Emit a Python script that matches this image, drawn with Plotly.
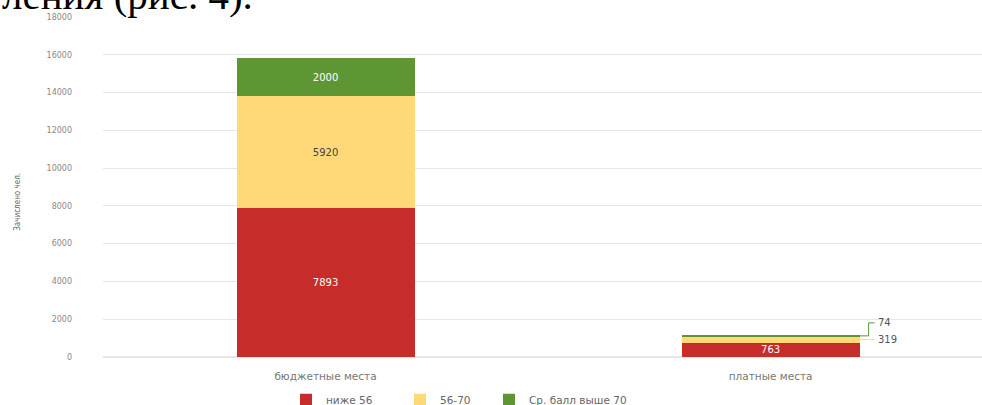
import plotly.graph_objects as go

categories = ["бюджетные места", "платные места"]
series_names = ["ниже 56", "56-70", "Ср. балл выше 70"]
below_56 = [7893, 763]
mid_56_70 = [5920, 319]
above_70 = [2000, 74]
colors = ["#C62D2A", "#FFD877", "#5E9634"]
text_colors = ["#ffffff", "#444444", "#ffffff"]
y_ticks = [0, 2000, 4000, 6000, 8000, 10000, 12000, 14000, 16000, 18000]
y_tick_labels = ["0", "2000", "4000", "6000", "8000", "10000", "12000", "14000", "16000", "18000"]
y_title = "Зачислено чел."
doc_text = "ления (рис. 4)."

series = [below_56, mid_56_70, above_70]
legend_ids = ["legend", "legend2", "legend3"]
legend_left_px = [286, 400, 489]

fig = go.Figure()
for i, (name, vals) in enumerate(zip(series_names, series)):
    txt = []
    for j, v in enumerate(vals):
        txt.append(str(v) if (j == 0 or i == 0) else "")
    fig.add_trace(go.Bar(
        x=categories, y=vals, name=name,
        marker=dict(color=colors[i], line=dict(width=0)),
        width=0.4,
        text=txt, textposition="inside", insidetextanchor="middle",
        textfont=dict(color=text_colors[i], size=10, family="DejaVu Sans"),
        hoverinfo="skip",
        legend=legend_ids[i],
    ))

# outside labels with connectors for the small bar segments
px_per_unit = 340 / 18000.0
half_w = 0.2
j = 1
cum = [0, below_56[j], below_56[j] + mid_56_70[j], below_56[j] + mid_56_70[j] + above_70[j]]
small = [(1, mid_56_70[j], colors[1], 0), (2, above_70[j], colors[2], 13)]
for k, v, c, up_px in small:
    ymid = (cum[k] + cum[k + 1]) / 2.0
    ylab = ymid + up_px / px_per_unit
    x0 = j + half_w
    x1 = x0 + 9 / 445.0
    x2 = x1 + 6 / 445.0
    fig.add_shape(type="path", xref="x", yref="y",
                  path=f"M {x0},{ymid} L {x1},{ymid} L {x1},{ylab} L {x2},{ylab}",
                  line=dict(color=c, width=1))
    fig.add_annotation(x=x2, y=ylab, xref="x", yref="y", text=str(v),
                       showarrow=False, xanchor="left", xshift=1,
                       font=dict(size=10, color="#555555", family="DejaVu Sans"))

# rotated axis title
fig.add_annotation(x=-92 / 879.0, y=0.455, xref="paper", yref="paper", text=y_title,
                   textangle=-90, showarrow=False,
                   font=dict(size=8, color="#666666", family="DejaVu Sans Condensed"))

# fragment of document text at the top
fig.add_annotation(x=-103 / 879.0, y=1 - 3 / 340.0, xref="paper", yref="paper",
                   text=doc_text, showarrow=False, xanchor="left", yanchor="bottom",
                   font=dict(size=41, color="#000000", family="Liberation Serif"))

legend_common = dict(orientation="h", xanchor="left", y=-0.083, yanchor="top",
                     font=dict(size=10.5, color="#666666"), itemwidth=30,
                     bgcolor="rgba(0,0,0,0)")

fig.update_layout(
    barmode="stack",
    width=982, height=405,
    margin=dict(l=103, r=0, t=17, b=48, autoexpand=False),
    paper_bgcolor="white", plot_bgcolor="white",
    font=dict(family="DejaVu Sans", size=9, color="#777777"),
    showlegend=True,
    legend=dict(x=(legend_left_px[0] - 103) / 879.0, **legend_common),
    legend2=dict(x=(legend_left_px[1] - 103) / 879.0, **legend_common),
    legend3=dict(x=(legend_left_px[2] - 103) / 879.0, **legend_common),
    xaxis=dict(range=[-0.5, 1.475], showgrid=False, showline=False, zeroline=False,
               ticks="", ticklabelstandoff=11, automargin=False,
               tickfont=dict(size=10.5, color="#777777")),
    yaxis=dict(range=[0, 18000], tickvals=y_ticks, ticktext=y_tick_labels,
               showgrid=True, gridcolor="#e6e6e6",
               zeroline=True, zerolinecolor="#e6e6e6", showline=False, ticks="",
               ticklabelstandoff=30, automargin=False,
               tickfont=dict(size=8, color="#888888")),
    uniformtext=dict(minsize=8, mode="show"),
)

fig.write_html("out.html", config={"displayModeBar": False},
               post_script="document.body.style.margin='0';document.body.style.padding='0';")
